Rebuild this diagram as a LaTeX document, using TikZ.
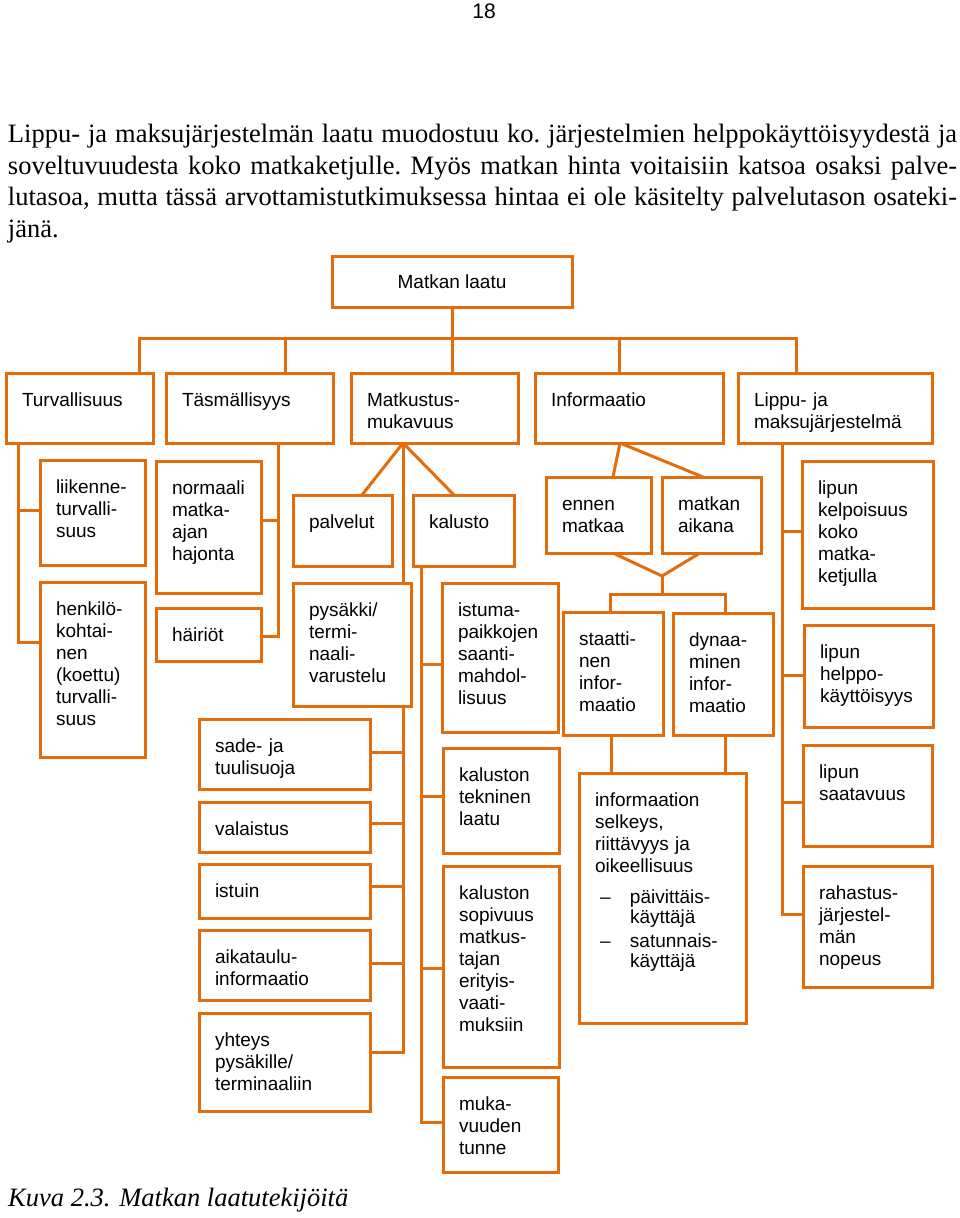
\documentclass[tikz,border=0pt]{standalone}
\usepackage{fontspec}
\setmainfont{Liberation Serif}
\newfontfamily\arialf{Liberation Sans}
\definecolor{org}{RGB}{228,108,10}
\tikzset{
  box/.style={draw=org, line width=3pt, inner sep=0pt, outer sep=0pt, rectangle},
  conn/.style={draw=org, line width=3pt, line join=miter},
  lbl/.style={inner sep=0pt, outer sep=0pt, text width=250pt, align=left,
    font=\arialf\fontsize{19}{22}\selectfont, anchor=base west},
  para/.style={inner sep=0pt, outer sep=0pt, anchor=base west,
    font=\rmfamily\fontsize{26.5}{31.7}\selectfont\frenchspacing},
}
\newcommand\mybox[6]{%
  \pgfmathsetmacro\mbw{#4-#2}\pgfmathsetmacro\mbh{#5-#3}%
  \node[box, minimum width=\mbw pt, minimum height=\mbh pt, anchor=north west] (#1) at (#2,#3) {};
  \node[lbl] (#1-t) at ([shift={(16pt,-33pt)}]#1.north west) {#6};
}
\begin{document}
\begin{tikzpicture}[x=1pt,y=-1pt]
\useasboundingbox (0,0) rectangle (960,1218);
\fill[white] (0,0) rectangle (960,1218);

% page number and paragraph
\node[inner sep=0pt, anchor=base, font=\arialf\fontsize{21}{24}\selectfont] (pnum) at (484,18) {18};
\node[para] (p1) at (8,142.5) {\makebox[949pt][s]{Lippu- ja maksujärjestelmän laatu muodostuu ko. järjestelmien helppokäyttöisyydestä ja}};
\node[para] (p2) at (8,174.2) {\makebox[949pt][s]{soveltuvuudesta koko matkaketjulle. Myös matkan hinta voitaisiin katsoa osaksi palve-}};
\node[para] (p3) at (8,205.9) {\makebox[949pt][s]{lutasoa, mutta tässä arvottamistutkimuksessa hintaa ei ole käsitelty palvelutason osateki-}};
\node[para] (p4) at (8,237.6) {jänä.};

% level 1
\node[box, minimum width=240pt, minimum height=51pt, anchor=north west,
  font=\arialf\fontsize{19}{22}\selectfont] (top) at (332,256) {Matkan laatu};

% level 2
\mybox{turv}{6}{373}{153}{443}{Turvallisuus}
\mybox{tasm}{166}{373}{333}{443}{Täsmällisyys}
\mybox{matk}{351}{373}{518}{443}{Matkustus-\\mukavuus}
\mybox{info}{535}{373}{723}{443}{Informaatio}
\mybox{lippu}{738}{373}{932}{443}{Lippu- ja\\maksujärjestelmä}

% level 3: turvallisuus
\mybox{liik}{40}{460}{145}{565}{liikenne-\\turvalli-\\suus}
\mybox{henk}{40}{582}{145}{757}{henkilö-\\kohtai-\\nen\\(koettu)\\turvalli-\\suus}
% täsmällisyys
\mybox{norm}{156}{461}{261}{593}{normaali\\matka-\\ajan\\hajonta}
\mybox{hair}{156}{608}{261}{661}{häiriöt}
% matkustusmukavuus
\mybox{palv}{293}{495}{392}{566}{palvelut}
\mybox{kal}{413}{495}{514}{566}{kalusto}
\mybox{pys}{293}{583}{411}{706}{pysäkki/\\termi-\\naali-\\varustelu}
\mybox{sade}{199}{719}{370}{789}{sade- ja\\tuulisuoja}
\mybox{vala}{199}{802}{370}{852}{valaistus}
\mybox{ist}{199}{864}{370}{918}{istuin}
\mybox{aika}{199}{930}{370}{1000}{aikataulu-\\informaatio}
\mybox{yht}{199}{1013}{370}{1111}{yhteys\\pysäkille/\\terminaaliin}
\mybox{istm}{442}{583}{558}{732}{istuma-\\paikkojen\\saanti-\\mahdol-\\lisuus}
\mybox{ktek}{443}{748}{559}{853}{kaluston\\tekninen\\laatu}
\mybox{ksop}{443}{866}{559}{1067}{kaluston\\sopivuus\\matkus-\\tajan\\erityis-\\vaati-\\muksiin}
\mybox{muka}{443}{1077}{558}{1172}{muka-\\vuuden\\tunne}
% informaatio
\mybox{enn}{546}{477}{651}{553}{ennen\\matkaa}
\mybox{aik}{662}{477}{761}{553}{matkan\\aikana}
\mybox{stat}{563}{612}{663}{735}{staatti-\\nen\\infor-\\maatio}
\mybox{dyn}{673}{613}{773}{735}{dynaa-\\minen\\infor-\\maatio}
\mybox{inf}{579}{773}{746}{1023}{informaation\\selkeys,\\riittävyys ja\\oikeellisuus\\[9pt]\hspace*{5pt}\makebox[30pt][l]{–}päivittäis-\\[-2pt]\hspace*{35pt}käyttäjä\\[2pt]\hspace*{5pt}\makebox[30pt][l]{–}satunnais-\\[-2pt]\hspace*{35pt}käyttäjä}
% lippu
\mybox{kelp}{802}{461}{933}{608}{lipun\\kelpoisuus\\koko\\matka-\\ketjulla}
\mybox{help}{804}{625}{933}{727}{lipun\\helppo-\\käyttöisyys}
\mybox{saat}{803}{745}{932}{846}{lipun\\saatavuus}
\mybox{rah}{803}{866}{932}{987}{rahastus-\\järjestel-\\män\\nopeus}

% caption
\node[inner sep=0pt, anchor=base west, font=\rmfamily\itshape\fontsize{26.5}{30}\selectfont] (cap) at (8,1206) {Kuva 2.3. Matkan laatutekijöitä};

% ---- connectors ----
% bus
\coordinate (busL) at (139,338);
\coordinate (busR) at (796,338);
\coordinate (d2) at (285,338);
\coordinate (d3) at (452,338);
\coordinate (d4) at (619,338);
\draw[conn] (top.south) -- (d3);
\draw[conn] (busL |- turv.north) -- (busL) -- (busR) -- (busR |- lippu.north);
\draw[conn] (d2) -- (d2 |- tasm.north);
\draw[conn] (d3) -- (d3 |- matk.north);
\draw[conn] (d4) -- (d4 |- info.north);

% turvallisuus
\coordinate (t1) at (18,510);
\coordinate (t2) at (18,642);
\draw[conn] (turv.south -| t1) -- (t2) -- (t2 -| henk.west);
\draw[conn] (t1) -- (t1 -| liik.west);

% täsmällisyys
\coordinate (s1) at (278,520);
\coordinate (s2) at (278,636);
\draw[conn] (tasm.south -| s1) -- (s2) -- (s2 -| hair.east);
\draw[conn] (s1) -- (s1 -| norm.east);

% matkustusmukavuus fan
\coordinate (mf) at (403,443);
\coordinate (mpa) at (362,495);
\coordinate (mka) at (454,495);
\draw[conn] (mf) -- (mpa);
\draw[conn] (mf) -- (mka);
\draw[conn] (mf) -- (mf |- pys.north);

% pysäkki branch
\coordinate (pv) at (403,1052);
\coordinate (pb1) at (403,752);
\coordinate (pb2) at (403,823);
\coordinate (pb3) at (403,886);
\coordinate (pb4) at (403,963);
\draw[conn] (pys.south -| pv) -- (pv) -- (pv -| yht.east);
\draw[conn] (pb1) -- (pb1 -| sade.east);
\draw[conn] (pb2) -- (pb2 -| vala.east);
\draw[conn] (pb3) -- (pb3 -| ist.east);
\draw[conn] (pb4) -- (pb4 -| aika.east);

% kalusto branch
\coordinate (kv) at (421,1122);
\coordinate (kb1) at (421,664);
\coordinate (kb2) at (421,796);
\coordinate (kb3) at (421,968);
\draw[conn] (kal.south -| kv) -- (kv) -- (kv -| muka.west);
\draw[conn] (kb1) -- (kb1 -| istm.west);
\draw[conn] (kb2) -- (kb2 -| ktek.west);
\draw[conn] (kb3) -- (kb3 -| ksop.west);

% informaatio fan
\coordinate (if) at (620,443);
\coordinate (ien) at (613,477);
\coordinate (iak) at (703,477);
\draw[conn] (if) -- (ien);
\draw[conn] (if) -- (iak);
\coordinate (ven) at (613,553);
\coordinate (vak) at (700,553);
\coordinate (vm) at (662,576);
\coordinate (vh) at (662,594);
\coordinate (hl) at (610,594);
\coordinate (hr) at (725,594);
\draw[conn] (ven) -- (vm) -- (vak);
\draw[conn] (vm) -- (vh);
\draw[conn] (hl |- stat.north) -- (hl) -- (hr) -- (hr |- dyn.north);
\coordinate (sx) at (611,735);
\coordinate (dx) at (725,735);
\draw[conn] (sx) -- (sx |- inf.north);
\draw[conn] (dx) -- (dx |- inf.north);

% lippu branch
\coordinate (lv) at (782,914);
\coordinate (lb1) at (782,531);
\coordinate (lb2) at (782,675);
\coordinate (lb3) at (782,802);
\draw[conn] (lippu.south -| lv) -- (lv) -- (lv -| rah.west);
\draw[conn] (lb1) -- (lb1 -| kelp.west);
\draw[conn] (lb2) -- (lb2 -| help.west);
\draw[conn] (lb3) -- (lb3 -| saat.west);
\end{tikzpicture}
\end{document}
